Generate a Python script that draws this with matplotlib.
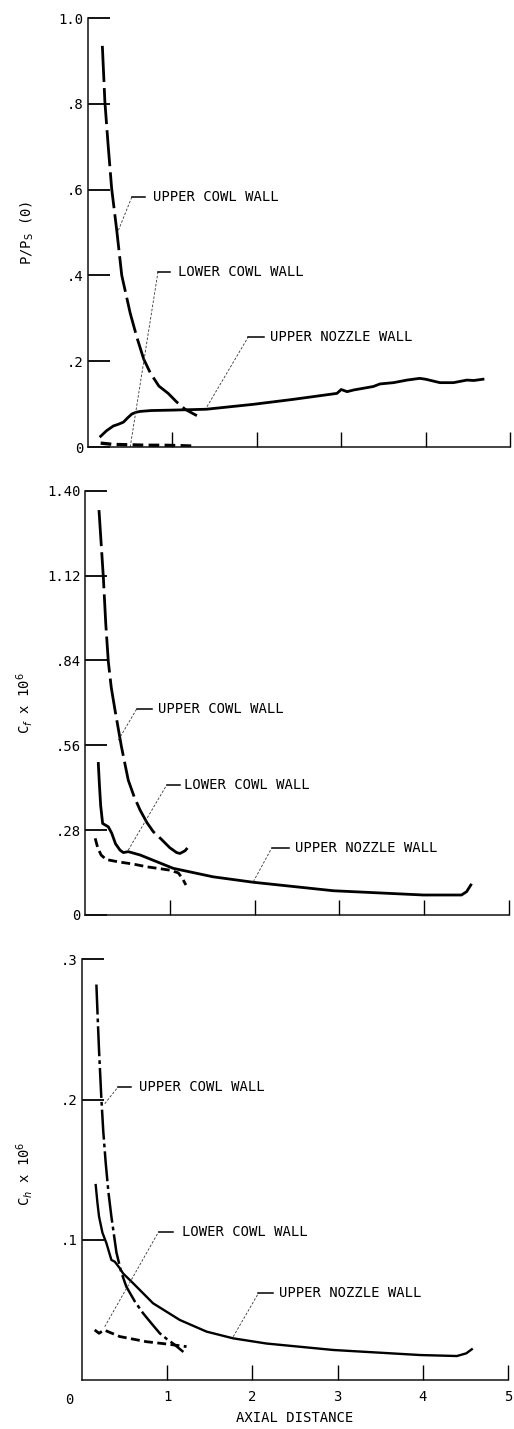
import matplotlib
matplotlib.use("Agg")
import matplotlib.pyplot as plt

plt.rcParams['font.family'] = ['DejaVu Sans Mono', 'DejaVu Sans']
plt.rcParams['mathtext.fontset'] = 'dejavusans'

# ---- pressure ratio P/Ps(0) ----
p_ucw_x = [0.17, 0.20, 0.24, 0.28, 0.34, 0.40, 0.50, 0.58, 0.66, 0.74, 0.84, 0.95, 1.05, 1.15, 1.29]
p_ucw_y = [0.935, 0.805, 0.70, 0.603, 0.506, 0.40, 0.312, 0.255, 0.205, 0.172, 0.142, 0.125, 0.105, 0.088, 0.073]
p_lcw_x = [0.15, 0.30, 0.50, 0.70, 0.90, 1.10, 1.25]
p_lcw_y = [0.009, 0.006, 0.005, 0.004, 0.004, 0.003, 0.002]
p_unw_x = [0.15, 0.22, 0.30, 0.36, 0.42, 0.47, 0.52, 0.57, 0.62, 0.75, 1.00, 1.40, 1.96, 2.43,
           2.95, 3.00, 3.07, 3.15, 3.38, 3.46, 3.62, 3.78, 3.93, 4.00, 4.17, 4.33, 4.49, 4.57, 4.68]
p_unw_y = [0.025, 0.038, 0.049, 0.053, 0.058, 0.068, 0.077, 0.081, 0.083, 0.085, 0.086, 0.088, 0.0995, 0.111,
           0.125, 0.134, 0.129, 0.133, 0.141, 0.147, 0.150, 0.156, 0.160, 0.158, 0.150, 0.150, 0.156, 0.155, 0.158]

# ---- skin friction Cf x 10^6 ----
cf_ucw_x = [0.165, 0.216, 0.245, 0.275, 0.31, 0.354, 0.43, 0.51, 0.58, 0.65, 0.73, 0.805, 0.90, 1.00, 1.08, 1.12, 1.18, 1.24]
cf_ucw_y = [1.336, 1.116, 0.96, 0.836, 0.75, 0.676, 0.555, 0.445, 0.39, 0.346, 0.305, 0.275, 0.25, 0.222, 0.206, 0.203, 0.212, 0.232]
cf_lcw_x = [0.12, 0.15, 0.19, 0.25, 0.40, 0.57, 0.73, 0.88, 1.00, 1.10, 1.15, 1.19]
cf_lcw_y = [0.253, 0.222, 0.198, 0.183, 0.175, 0.168, 0.159, 0.153, 0.148, 0.139, 0.12, 0.099]
cf_unw_x = [0.157, 0.17, 0.185, 0.208, 0.275, 0.315, 0.36, 0.413, 0.452, 0.51, 0.65, 1.04, 1.51, 1.985,
            2.93, 3.99, 4.44, 4.50, 4.55]
cf_unw_y = [0.50, 0.43, 0.36, 0.302, 0.291, 0.27, 0.235, 0.214, 0.206, 0.209, 0.198, 0.154, 0.126, 0.108,
            0.080, 0.066, 0.066, 0.077, 0.099]

# ---- heat transfer Ch x 10^6 ----
ch_ucw_x = [0.169, 0.185, 0.20, 0.227, 0.25, 0.278, 0.31, 0.345, 0.404, 0.46, 0.52, 0.62, 0.717, 0.82, 0.913, 1.00, 1.07, 1.13, 1.19]
ch_ucw_y = [0.282, 0.257, 0.235, 0.201, 0.177, 0.155, 0.134, 0.1165, 0.091, 0.077, 0.0666, 0.056, 0.0476, 0.040, 0.0333, 0.029, 0.026, 0.023, 0.020]
ch_lcw_x = [0.149, 0.20, 0.258, 0.443, 0.757, 0.99, 1.227]
ch_lcw_y = [0.0357, 0.0333, 0.0357, 0.031, 0.0273, 0.0257, 0.0238]
ch_unw_x = [0.161, 0.18, 0.20, 0.24, 0.287, 0.345, 0.384, 0.44, 0.482, 0.60, 0.834, 1.148, 1.462, 1.775,
            2.167, 2.95, 3.97, 4.40, 4.51, 4.575]
ch_unw_y = [0.139, 0.127, 0.1165, 0.105, 0.0975, 0.0856, 0.0844, 0.080, 0.076, 0.069, 0.0547, 0.0428, 0.0345, 0.0297,
            0.026, 0.0214, 0.0178, 0.0171, 0.019, 0.0219]

x_ticks = [1, 2, 3, 4, 5]
p_ticks = [0, 0.2, 0.4, 0.6, 0.8, 1.0]
p_labels = ['0', '.2', '.4', '.6', '.8', '1.0']
cf_ticks = [0, 0.28, 0.56, 0.84, 1.12, 1.40]
cf_labels = ['0', '.28', '.56', '.84', '1.12', '1.40']
ch_ticks = [0.1, 0.2, 0.3]
ch_labels = ['.1', '.2', '.3']

# callouts: label, point on curve, elbow, end of horizontal stub, text x
p_callouts = [("UPPER COWL WALL", (0.36, 0.505), (0.52, 0.583), 0.675, 0.77),
              ("LOWER COWL WALL", (0.50, 0.0), (0.83, 0.409), 0.97, 1.07),
              ("UPPER NOZZLE WALL", (1.41, 0.094), (1.90, 0.257), 2.08, 2.16)]
cf_callouts = [("UPPER COWL WALL", (0.393, 0.577), (0.61, 0.68), 0.786, 0.864),
               ("LOWER COWL WALL", (0.51, 0.214), (0.963, 0.429), 1.12, 1.17),
               ("UPPER NOZZLE WALL", (1.985, 0.11), (2.20, 0.22), 2.40, 2.48)]
ch_callouts = [("UPPER COWL WALL", (0.267, 0.197), (0.423, 0.209), 0.58, 0.67),
               ("LOWER COWL WALL", (0.267, 0.038), (0.90, 0.1058), 1.07, 1.168),
               ("UPPER NOZZLE WALL", (1.775, 0.0309), (2.07, 0.0618), 2.245, 2.315)]

FS = 10
fig = plt.figure(figsize=(5.14, 14.29), dpi=100)
W, H = 514.0, 1429.0
ax1 = fig.add_axes([88 / W, 1 - 447 / H, 422 / W, 429 / H])
ax2 = fig.add_axes([85 / W, 1 - 915 / H, 424 / W, 424.3 / H])
ax3 = fig.add_axes([82 / W, 1 - 1380 / H, 426 / W, 420.7 / H])

ucw_dash = (0, (13, 2.2))
ucw_dashdot = (0, (12, 1.6, 1.5, 1.6))
lcw_dash = (0, (3.2, 1.6))


def style_axes(ax, ymax, yt, yl, xlabels):
    ax.set_xlim(0, 5)
    ax.set_ylim(0, ymax)
    for s in ('top', 'right'):
        ax.spines[s].set_visible(False)
    for s in ('left', 'bottom'):
        ax.spines[s].set_linewidth(1.1)
        ax.spines[s].set_color('#111111')
    ax.set_yticks(yt)
    ax.set_yticklabels(yl, fontsize=FS)
    ax.set_xticks(x_ticks)
    if xlabels:
        ax.set_xticklabels([str(t) for t in x_ticks], fontsize=FS)
    else:
        ax.set_xticklabels([])
    ax.tick_params(axis='y', direction='in', length=15.8, width=1.3, pad=3)
    ax.tick_params(axis='x', direction='in', length=11, width=1.0, pad=7)


def callouts(ax, items):
    for label, pt, elbow, stub_end, tx in items:
        ax.plot([pt[0], elbow[0]], [pt[1], elbow[1]], color='#333333', lw=0.6,
                ls=(0, (3, 2)), clip_on=False)
        ax.plot([elbow[0], stub_end], [elbow[1], elbow[1]], color='black', lw=1.1, clip_on=False)
        ax.text(tx, elbow[1], label, fontsize=FS, ha='left', va='center')


# pressure ratio
ax1.plot(p_ucw_x, p_ucw_y, color='black', lw=2.0, ls=ucw_dash)
ax1.plot(p_lcw_x, p_lcw_y, color='black', lw=2.4, ls=lcw_dash)
ax1.plot(p_unw_x, p_unw_y, color='black', lw=2.0)
style_axes(ax1, 1.0, p_ticks, p_labels, False)
callouts(ax1, p_callouts)
ax1.text(-0.145, 0.5, r'P/P$_\mathrm{S}$ (0)', transform=ax1.transAxes, rotation=90,
         ha='center', va='center', fontsize=FS)

# skin friction
ax2.plot(cf_ucw_x, cf_ucw_y, color='black', lw=2.0, ls=ucw_dash)
ax2.plot(cf_lcw_x, cf_lcw_y, color='black', lw=2.0, ls=lcw_dash)
ax2.plot(cf_unw_x, cf_unw_y, color='black', lw=2.0)
style_axes(ax2, 1.40, cf_ticks, cf_labels, False)
callouts(ax2, cf_callouts)
ax2.text(-0.142, 0.5, r'C$_f$ x 10$^6$', transform=ax2.transAxes, rotation=90,
         ha='center', va='center', fontsize=FS)

# heat transfer
ax3.plot(ch_ucw_x, ch_ucw_y, color='black', lw=1.8, ls=ucw_dashdot)
ax3.plot(ch_lcw_x, ch_lcw_y, color='black', lw=2.0, ls=lcw_dash)
ax3.plot(ch_unw_x, ch_unw_y, color='black', lw=1.7)
style_axes(ax3, 0.3, ch_ticks, ch_labels, True)
callouts(ax3, ch_callouts)
ax3.annotate('0', xy=(0, 0), xycoords='data', xytext=(-9, -9), textcoords='offset points',
             ha='center', va='top', fontsize=FS)
ax3.text(-0.135, 0.49, r'C$_h$ x 10$^6$', transform=ax3.transAxes, rotation=90,
         ha='center', va='center', fontsize=FS)
ax3.set_xlabel('AXIAL DISTANCE', fontsize=FS, labelpad=5)

fig.savefig('out.png', dpi=100, facecolor='white')
